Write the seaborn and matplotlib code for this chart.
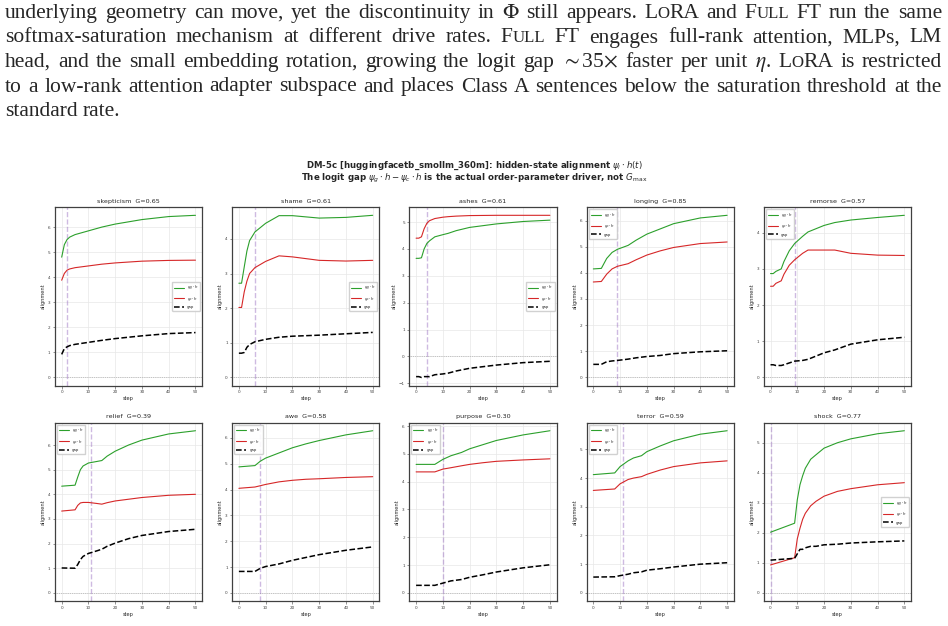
import numpy as np
import matplotlib
matplotlib.use("Agg")
import matplotlib.pyplot as plt
import seaborn as sns

# ---- panel data ----
emotions = ["skepticism", "shame", "ashes", "longing", "remorse",
            "relief", "awe", "purpose", "terror", "shock"]
g_scores = [0.65, 0.61, 0.61, 0.85, 0.57, 0.39, 0.58, 0.30, 0.59, 0.77]
onset_steps = [2, 6, 4, 9, 9, 11, 8, 10, 11, 0]
legend_locs = ["center right", "center right", "center right", "upper left", "upper left",
               "upper left", "upper left", "upper left", "upper left", "center right"]

skepticism_steps = [0, 1, 2, 3, 5, 10, 15, 20, 30, 40, 50]
skepticism_g = [4.80, 5.30, 5.50, 5.60, 5.70, 5.85, 6.00, 6.12, 6.30, 6.42, 6.47]
skepticism_c = [3.88, 4.15, 4.28, 4.33, 4.38, 4.45, 4.52, 4.57, 4.64, 4.67, 4.68]

shame_steps = [0, 1, 2, 3, 4, 6, 10, 15, 20, 30, 40, 50]
shame_g = [2.72, 2.72, 3.19, 3.65, 3.95, 4.20, 4.45, 4.67, 4.67, 4.60, 4.62, 4.68]
shame_c = [2.02, 2.02, 2.47, 2.78, 3.00, 3.17, 3.35, 3.51, 3.48, 3.38, 3.36, 3.38]

ashes_steps = [0, 1, 2, 3, 4, 5, 7, 10, 12, 15, 20, 30, 40, 50]
ashes_g = [3.65, 3.65, 3.67, 4.00, 4.20, 4.30, 4.45, 4.53, 4.58, 4.68, 4.80, 4.93, 5.02, 5.07]
ashes_c = [4.40, 4.40, 4.45, 4.75, 4.95, 5.05, 5.13, 5.18, 5.20, 5.22, 5.24, 5.25, 5.25, 5.25]

longing_steps = [0, 3, 5, 7, 9, 13, 16, 20, 25, 30, 40, 50]
longing_g = [4.15, 4.17, 4.55, 4.78, 4.90, 5.05, 5.25, 5.48, 5.68, 5.88, 6.10, 6.20]
longing_c = [3.65, 3.67, 3.95, 4.15, 4.25, 4.35, 4.50, 4.68, 4.84, 4.97, 5.12, 5.18]

remorse_steps = [0, 1, 2, 4, 5, 7, 9, 12, 14, 20, 24, 30, 40, 50]
remorse_g = [2.87, 2.87, 2.93, 3.00, 3.20, 3.50, 3.70, 3.90, 4.02, 4.20, 4.28, 4.35, 4.42, 4.48]
remorse_c = [2.52, 2.52, 2.60, 2.67, 2.85, 3.10, 3.25, 3.43, 3.52, 3.52, 3.52, 3.43, 3.38, 3.37]

relief_steps = [0, 5, 6, 7, 8, 10, 13, 15, 17, 20, 25, 30, 40, 50]
relief_g = [4.33, 4.37, 4.70, 5.00, 5.15, 5.27, 5.33, 5.37, 5.55, 5.75, 6.00, 6.20, 6.45, 6.58]
relief_c = [3.32, 3.37, 3.55, 3.65, 3.67, 3.67, 3.63, 3.60, 3.66, 3.73, 3.80, 3.87, 3.96, 4.00]

awe_steps = [0, 6, 8, 10, 15, 20, 25, 30, 40, 50]
awe_g = [4.88, 4.93, 5.10, 5.22, 5.42, 5.62, 5.77, 5.90, 6.12, 6.28]
awe_c = [4.05, 4.10, 4.15, 4.20, 4.30, 4.36, 4.40, 4.42, 4.47, 4.50]

purpose_steps = [0, 7, 10, 13, 17, 20, 25, 30, 40, 50]
purpose_g = [4.62, 4.62, 4.80, 4.93, 5.05, 5.18, 5.33, 5.48, 5.68, 5.83]
purpose_c = [4.35, 4.35, 4.45, 4.50, 4.57, 4.62, 4.68, 4.73, 4.78, 4.82]

terror_steps = [0, 8, 10, 13, 15, 18, 20, 25, 30, 40, 50]
terror_g = [4.12, 4.18, 4.40, 4.60, 4.70, 4.78, 4.92, 5.12, 5.30, 5.53, 5.65]
terror_c = [3.57, 3.62, 3.80, 3.95, 4.00, 4.05, 4.13, 4.28, 4.40, 4.53, 4.60]

shock_steps = [0, 9, 10, 11, 12, 13, 15, 17, 20, 25, 30, 40, 50]
shock_g = [2.02, 2.32, 3.10, 3.60, 3.90, 4.15, 4.45, 4.60, 4.82, 5.00, 5.13, 5.30, 5.40]
shock_c = [0.93, 1.17, 1.80, 2.15, 2.45, 2.65, 2.90, 3.05, 3.22, 3.38, 3.47, 3.60, 3.67]

panels = [
    (skepticism_steps, skepticism_g, skepticism_c),
    (shame_steps, shame_g, shame_c),
    (ashes_steps, ashes_g, ashes_c),
    (longing_steps, longing_g, longing_c),
    (remorse_steps, remorse_g, remorse_c),
    (relief_steps, relief_g, relief_c),
    (awe_steps, awe_g, awe_c),
    (purpose_steps, purpose_g, purpose_c),
    (terror_steps, terror_g, terror_c),
    (shock_steps, shock_g, shock_c),
]

paragraph = [
    r"underlying geometry can move, yet the discontinuity in $\Phi$ still appears. ~LoRA and ~Full FT run the same",
    r"softmax-saturation mechanism at different drive rates.  ~Full FT engages full-rank attention, MLPs, LM",
    r"head, and the small embedding rotation, growing the logit gap ${\sim}$35${\times}$ faster per unit $\eta$. ~LoRA is restricted",
    r"to a low-rank attention adapter subspace and places Class A sentences below the saturation threshold at the",
    r"standard rate.",
]

sns.set_style("whitegrid", {"axes.edgecolor": "0.25", "grid.color": "0.91",
                            "xtick.bottom": True, "ytick.left": True})
plt.rcParams["font.family"] = ["DejaVu Sans"]
plt.rcParams["axes.linewidth"] = 0.9
plt.rcParams["xtick.major.size"] = 1.8
plt.rcParams["ytick.major.size"] = 1.8
plt.rcParams["xtick.major.width"] = 0.4
plt.rcParams["ytick.major.width"] = 0.4
plt.rcParams["xtick.color"] = "0.25"
plt.rcParams["ytick.color"] = "0.25"
plt.rcParams["grid.linewidth"] = 0.5

fig = plt.figure(figsize=(9.48, 6.26), dpi=100)
axes = fig.subplots(2, 5)
fig.subplots_adjust(left=0.058, right=0.961, top=0.669, bottom=0.040, wspace=0.204, hspace=0.208)

for ax, name, G, onset, loc, (steps, g, c) in zip(axes.flat, emotions, g_scores, onset_steps,
                                                   legend_locs, panels):
    gap = np.subtract(g, c)
    ax.axhline(0, color="0.6", lw=0.5, ls=":")
    ax.axvline(onset, color="#9467bd", lw=1.0, ls="--", alpha=0.45)
    sns.lineplot(x=steps, y=g, ax=ax, color="#2ca02c", lw=0.8, label=r"$\psi_g\cdot h$")
    sns.lineplot(x=steps, y=c, ax=ax, color="#d62728", lw=0.8, label=r"$\psi_c\cdot h$")
    sns.lineplot(x=steps, y=gap, ax=ax, color="black", lw=1.1, ls="--", label="gap")
    ax.set_xticks([0, 10, 20, 30, 40, 50])
    ax.tick_params(labelsize=3, pad=1.5)
    ax.set_xlabel("step", fontsize=3.6, labelpad=1.5)
    ax.set_ylabel("alignment", fontsize=3.6, labelpad=1.5)
    ax.set_title(f"{name}  G={G:.2f}", fontsize=4.6, pad=3)
    ax.legend(loc=loc, fontsize=2.8, frameon=True, handlelength=2.6, borderpad=0.5,
              labelspacing=0.6, framealpha=0.9, edgecolor="0.8", fancybox=True)

fig.text(0.5, 1 - 166 / 626,
         r"DM-5c [huggingfacetb_smollm_360m]: hidden-state alignment $\psi_i \cdot h(t)$",
         ha="center", va="center", fontsize=6.2, fontweight="bold")
fig.text(0.5, 1 - 178 / 626,
         r"The logit gap $\psi_g \cdot h - \psi_c \cdot h$ is the actual order-parameter driver, not $G_{\max}$",
         ha="center", va="center", fontsize=6.2, fontweight="bold")

# ---- justified paragraph above the figure ----
base_size = 15.5
renderer = fig.canvas.get_renderer()
W = fig.bbox.width


def word_segments(token):
    if not token.startswith("~"):
        return [(token, 1.0)]
    segs = []
    for ch in token[1:]:
        scale = 0.78 if ch.islower() else 1.0
        if segs and segs[-1][1] == scale:
            segs[-1][0] += ch.upper()
        else:
            segs.append([ch.upper(), scale])
    return [(s, k) for s, k in segs]


def draw_line(tokens, y_px, justify):
    words = []
    for tok in tokens:
        texts, widths = [], []
        for s, k in word_segments(tok):
            t = fig.text(0, 1 - y_px / 626, s, fontsize=base_size * k, va="baseline",
                         family="Liberation Serif", math_fontfamily="stix")
            texts.append(t)
            widths.append(t.get_window_extent(renderer).width)
        words.append((texts, widths))
    total = sum(sum(w) for _, w in words)
    x0, x1 = 5, 942
    if justify:
        space = (x1 - x0 - total) / (len(words) - 1)
    else:
        space = base_size * 0.25 * 100 / 72
    x = x0
    for texts, widths in words:
        for t, w in zip(texts, widths):
            t.set_x(x / W)
            x += w
        x += space


baselines = [18, 42.5, 67, 91.5, 116]
for i, (line, yb) in enumerate(zip(paragraph, baselines)):
    tokens = [t for t in line.split(" ") if t]
    draw_line(tokens, yb, justify=(i < len(paragraph) - 1))

fig.savefig("out.png", dpi=100)
